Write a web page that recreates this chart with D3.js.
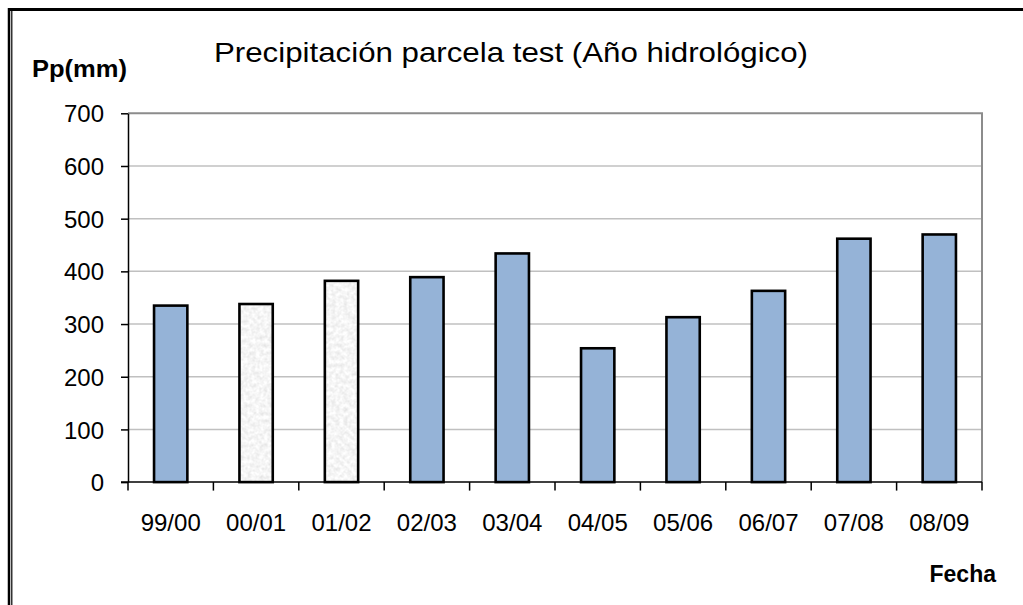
<!DOCTYPE html>
<html>
<head>
<meta charset="utf-8">
<script src="https://cdn.jsdelivr.net/npm/d3@7"></script>
<style>
  html, body { margin: 0; padding: 0; background: #fff; }
  svg { display: block; }
  text { font-family: "Liberation Sans", Arial, sans-serif; fill: #000; }
</style>
</head>
<body>
<svg id="chart" width="1023" height="605"></svg>
<script>
// ---- Data ----
const categories = ["99/00", "00/01", "01/02", "02/03", "03/04", "04/05", "05/06", "06/07", "07/08", "08/09"];
const precipitation = [335, 338, 382, 389, 434, 254, 313, 363, 462, 470];
const estimated = [false, true, true, false, false, false, false, false, false, false];
const yTicks = [0, 100, 200, 300, 400, 500, 600, 700];
const title = "Precipitación parcela test (Año hidrológico)";
const yTitle = "Pp(mm)";
const xTitle = "Fecha";

// ---- Layout ----
const W = 1023, H = 605;
const plot = { left: 128, right: 982, top: 113.3, bottom: 482.1 };

const svg = d3.select("#chart");

// defs: speckle filter for estimated bars
const defs = svg.append("defs");
const f = defs.append("filter").attr("id", "speckle").attr("x", 0).attr("y", 0).attr("width", 1).attr("height", 1);
f.append("feTurbulence").attr("type", "fractalNoise").attr("baseFrequency", 0.25).attr("numOctaves", 3).attr("seed", 5).attr("result", "noise");
f.append("feColorMatrix").attr("in", "noise").attr("type", "matrix")
  .attr("values", "0.35 0 0 0 0.74  0.35 0 0 0 0.74  0.35 0 0 0 0.74  0 0 0 0 1").attr("result", "gray");
f.append("feComposite").attr("in", "gray").attr("in2", "SourceAlpha").attr("operator", "in");

// outer frame
svg.append("line").attr("x1", 8).attr("x2", W).attr("y1", 9.5).attr("y2", 9.5)
  .attr("stroke", "#000").attr("stroke-width", 3);
svg.append("line").attr("x1", 9).attr("x2", 9).attr("y1", 8).attr("y2", H)
  .attr("stroke", "#000").attr("stroke-width", 2.5);
svg.append("line").attr("x1", 11.8).attr("x2", 11.8).attr("y1", 10).attr("y2", H)
  .attr("stroke", "#000").attr("stroke-width", 1.2);

// scales
const x = d3.scaleBand().domain(categories).range([plot.left, plot.right]).paddingInner(0.61).paddingOuter(0.305);
const y = d3.scaleLinear().domain([0, 700]).range([plot.bottom, plot.top]);

// gridlines
svg.append("g").selectAll("line").data(yTicks.filter(d => d > 0 && d < 700)).join("line")
  .attr("x1", plot.left).attr("x2", plot.right)
  .attr("y1", d => y(d)).attr("y2", d => y(d))
  .attr("stroke", "#c0c0c0").attr("stroke-width", 1.5);

// plot border top/right (gray)
svg.append("path")
  .attr("d", `M${plot.left},${y(700)}H${plot.right}V${plot.bottom}`)
  .attr("fill", "none").attr("stroke", "#8c8c8c").attr("stroke-width", 2);

// bars
const bars = svg.append("g");
bars.selectAll("rect.fill").data(categories).join("rect")
  .attr("class", "fill")
  .attr("x", d => x(d)).attr("width", x.bandwidth())
  .attr("y", (d, i) => y(precipitation[i]))
  .attr("height", (d, i) => y(0) - y(precipitation[i]))
  .attr("fill", (d, i) => estimated[i] ? "#eeeeee" : "#95b3d7")
  .attr("filter", (d, i) => estimated[i] ? "url(#speckle)" : null);
bars.selectAll("rect.edge").data(categories).join("rect")
  .attr("class", "edge")
  .attr("x", d => x(d)).attr("width", x.bandwidth())
  .attr("y", (d, i) => y(precipitation[i]))
  .attr("height", (d, i) => y(0) - y(precipitation[i]))
  .attr("fill", "none").attr("stroke", "#000").attr("stroke-width", 2.6);

// y axis
const yAxis = svg.append("g").attr("transform", `translate(${plot.left},0)`)
  .call(d3.axisLeft(y).tickValues(yTicks).tickSize(7).tickPadding(17).tickSizeOuter(0));
yAxis.select(".domain").attr("stroke", "#000").attr("stroke-width", 1.5);
yAxis.selectAll(".tick line").attr("stroke", "#000").attr("stroke-width", 1.5);
yAxis.selectAll(".tick text").style("font-size", "24px").style("font-family", "Liberation Sans, Arial, sans-serif")
  .attr("fill", "#111").attr("dy", "0.36em");

// x axis baseline
svg.append("line").attr("x1", plot.left - 7).attr("x2", plot.right)
  .attr("y1", y(0)).attr("y2", y(0)).attr("stroke", "#000").attr("stroke-width", 1.5);

// x tick marks at band boundaries
const boundaries = d3.range(categories.length + 1).map(i => x.range()[0] + i * x.step());
svg.append("g").selectAll("line").data(boundaries).join("line")
  .attr("x1", d => d).attr("x2", d => d)
  .attr("y1", y(0)).attr("y2", y(0) + 8.5)
  .attr("stroke", "#000").attr("stroke-width", 1.5);

// x labels
const xAxis = svg.append("g").attr("transform", `translate(0,${y(0)})`)
  .call(d3.axisBottom(x).tickSize(0).tickPadding(0));
xAxis.select(".domain").remove();
xAxis.selectAll(".tick text").attr("dy", null).attr("y", 49)
  .style("font-size", "24px").style("font-family", "Liberation Sans, Arial, sans-serif").attr("fill", "#111");

// titles
svg.append("text").attr("x", 214).attr("y", 62.3)
  .attr("textLength", 594).attr("lengthAdjust", "spacingAndGlyphs")
  .style("font-size", "28px").attr("fill", "#111").text(title);

svg.append("text").attr("x", 32).attr("y", 77)
  .attr("textLength", 95).attr("lengthAdjust", "spacingAndGlyphs")
  .style("font-size", "24px").style("font-weight", "bold").text(yTitle);

svg.append("text").attr("x", 996).attr("y", 582).attr("text-anchor", "end")
  .style("font-size", "23px").style("font-weight", "bold").text(xTitle);
</script>
</body>
</html>
